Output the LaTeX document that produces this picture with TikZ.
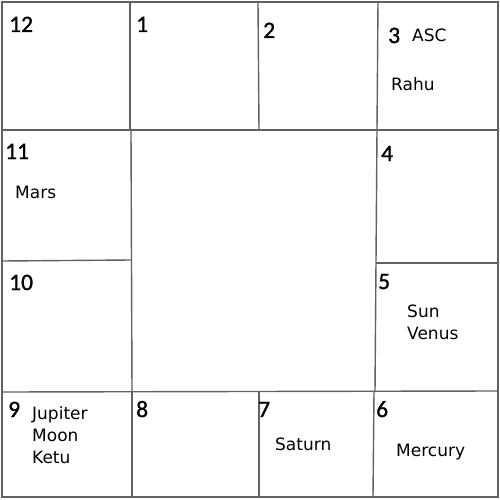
\documentclass[tikz,border=0pt]{standalone}
\usepackage{fontspec}
\setmainfont{DejaVu Sans}
\newfontfamily\numfont[FakeBold=1.2]{Carlito}
\begin{document}
\begin{tikzpicture}[x=1pt,y=-1pt,
  grid/.style={draw=black!62,line width=1.4pt},
  housenum/.style={anchor=base west,inner sep=0pt,font=\numfont\fontsize{23.5}{26}\selectfont},
  planet/.style={anchor=base west,inner sep=0pt,font=\fontsize{17}{22}\selectfont}]
\useasboundingbox (0,0) rectangle (500,500);
\fill[white] (0,0) rectangle (500,500);
% outer frame
\draw[grid] (2,2) -- (498,2) -- (498,497) -- (2,497) -- cycle;
% top row
\draw[grid] (2,130) -- (498,130);
\draw[grid] (130,2) -- (130,130);
\draw[grid] (258,2) -- (259,130);
\draw[grid] (378,2) -- (377,130);
% left column
\draw[grid] (131,130) -- (132,392);
\draw[grid] (2,261) -- (131,260);
% right column
\draw[grid] (377,130) -- (375,392);
\draw[grid] (376,263) -- (498,263);
% bottom row
\draw[grid] (2,392) -- (498,391);
\draw[grid] (132,392) -- (132,497);
\draw[grid] (259,392) -- (259,497);
\draw[grid] (374,392) -- (373,497);
% house numbers
\node[housenum] (h12) at (9,32) {12};
\node[housenum] (h1) at (136,32) {1};
\node[housenum] (h2) at (263,38) {2};
\node[housenum] (h3) at (388,43) {3};
\node[housenum] (h11) at (5,159) {11};
\node[housenum] (h4) at (381,161) {4};
\node[housenum] (h10) at (9,290) {10};
\node[housenum] (h5) at (378,289) {5};
\node[housenum] (h9) at (8,417) {9};
\node[housenum] (h8) at (136,417) {8};
\node[housenum] (h7) at (258,417) {7};
\node[housenum] (h6) at (376,417) {6};
% planets
\node[planet] (asc) at (412,42) {ASC};
\node[planet] (rahu) at (391,91) {Rahu};
\node[planet] (mars) at (15,198) {Mars};
\node[planet] (sun) at (407,317) {\vtop{\hbox{Sun}\hbox{Venus}}};
\node[planet] (jup) at (32,419) {\vtop{\hbox{Jupiter}\hbox{Moon}\hbox{Ketu}}};
\node[planet] (sat) at (275,450) {Saturn};
\node[planet] (mer) at (396,456) {Mercury};
\end{tikzpicture}
\end{document}
